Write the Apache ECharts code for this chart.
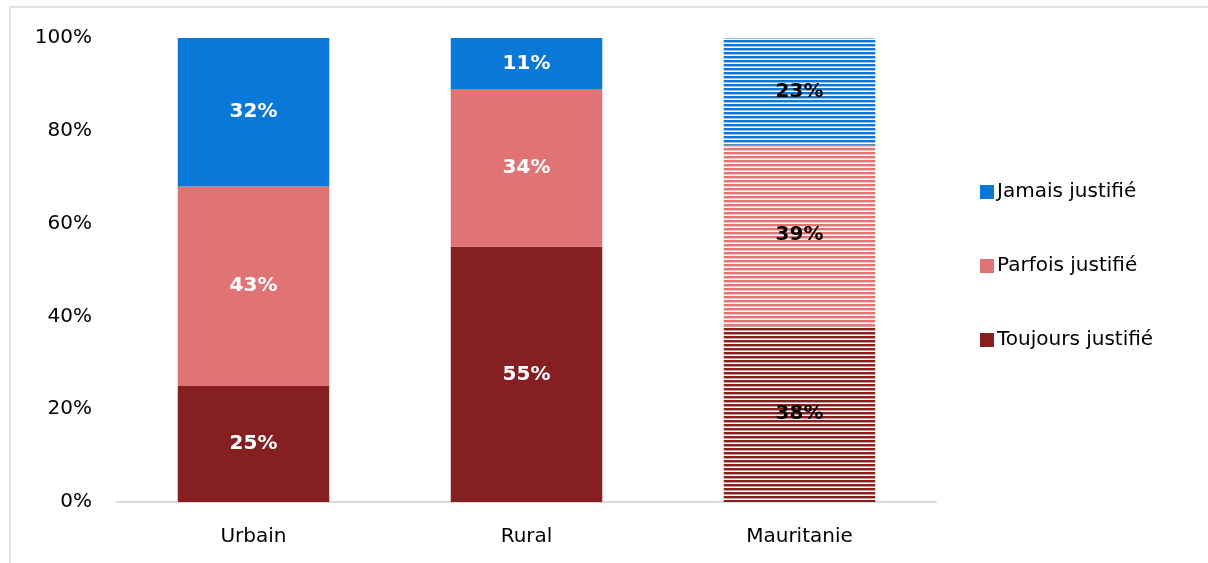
<!DOCTYPE html>
<html><head><meta charset="utf-8">
<script src="https://cdn.jsdelivr.net/npm/echarts@6/dist/echarts.min.js"></script>
<style>html,body{margin:0;padding:0;background:#fff}#c{width:1208px;height:563px}</style>
</head><body><div id="c"></div>
<script>
var categories = ['Urbain', 'Rural', 'Mauritanie'];
var toujours = [25, 55, 38];
var parfois = [43, 34, 39];
var jamais = [32, 11, 23];
var yTicks = [0, 20, 40, 60, 80, 100];
var seriesNames = ['Toujours justifié', 'Parfois justifié', 'Jamais justifié'];
var colors = ['#861F22', '#E07475', '#0A78D6'];
var FONT = '"DejaVu Sans", sans-serif';

function stripe(col) {
  var cv = document.createElement('canvas');
  cv.width = 8; cv.height = 4;
  var ctx = cv.getContext('2d');
  ctx.fillStyle = '#ffffff'; ctx.fillRect(0, 0, 8, 4);
  ctx.fillStyle = col; ctx.fillRect(0, 0, 8, 2);
  ctx.globalAlpha = 0.45; ctx.fillRect(0, 2, 8, 1);
  return cv;
}

function mkSeries(i, vals) {
  return {
    name: seriesNames[i], type: 'bar', stack: 'total', barWidth: '55.5%',
    itemStyle: { color: colors[i] },
    data: vals.map(function (v, k) {
      var d = { value: v };
      if (k === 2) {
        d.itemStyle = { color: { image: stripe(colors[i]), repetition: 'repeat' } };
        d.label = { color: '#000' };
      }
      return d;
    }),
    label: { show: true, position: 'inside', color: '#fff', fontWeight: 'bold', fontSize: 20, fontFamily: FONT,
      formatter: function (p) { return p.value + '%'; } }
  };
}

var chart = echarts.init(document.getElementById('c'), null, { renderer: 'canvas' });
chart.setOption({
  animation: false,
  backgroundColor: '#fff',
  graphic: [{ type: 'rect', shape: { x: 10, y: 7, width: 1300, height: 600 }, style: { fill: 'none', stroke: '#e2e2e2', lineWidth: 2 }, silent: true }],
  grid: { left: 117, right: 272, top: 38, bottom: 61, containLabel: false },
  legend: {
    orient: 'vertical', right: 'auto', left: 975, top: 177, itemGap: 54,
    itemWidth: 14, itemHeight: 14, icon: 'rect',
    data: ['Jamais justifié', 'Parfois justifié', 'Toujours justifié'],
    textStyle: { fontSize: 20, color: '#000', fontFamily: FONT, padding: [0, 0, 0, -2] }
  },
  xAxis: {
    type: 'category', data: categories,
    axisLine: { lineStyle: { color: '#d9d9d9', width: 2 } },
    axisTick: { show: false },
    axisLabel: { fontSize: 20, color: '#000', margin: 25, fontFamily: FONT }
  },
  yAxis: {
    type: 'value', min: 0, max: 100, interval: 20,
    splitLine: { show: false }, axisLine: { show: false }, axisTick: { show: false },
    axisLabel: { fontSize: 20, color: '#000', margin: 25, fontFamily: FONT,
      formatter: function (v) { return yTicks.indexOf(v) >= 0 ? v + '%' : ''; } }
  },
  series: [mkSeries(0, toujours), mkSeries(1, parfois), mkSeries(2, jamais)]
});
</script></body></html>
